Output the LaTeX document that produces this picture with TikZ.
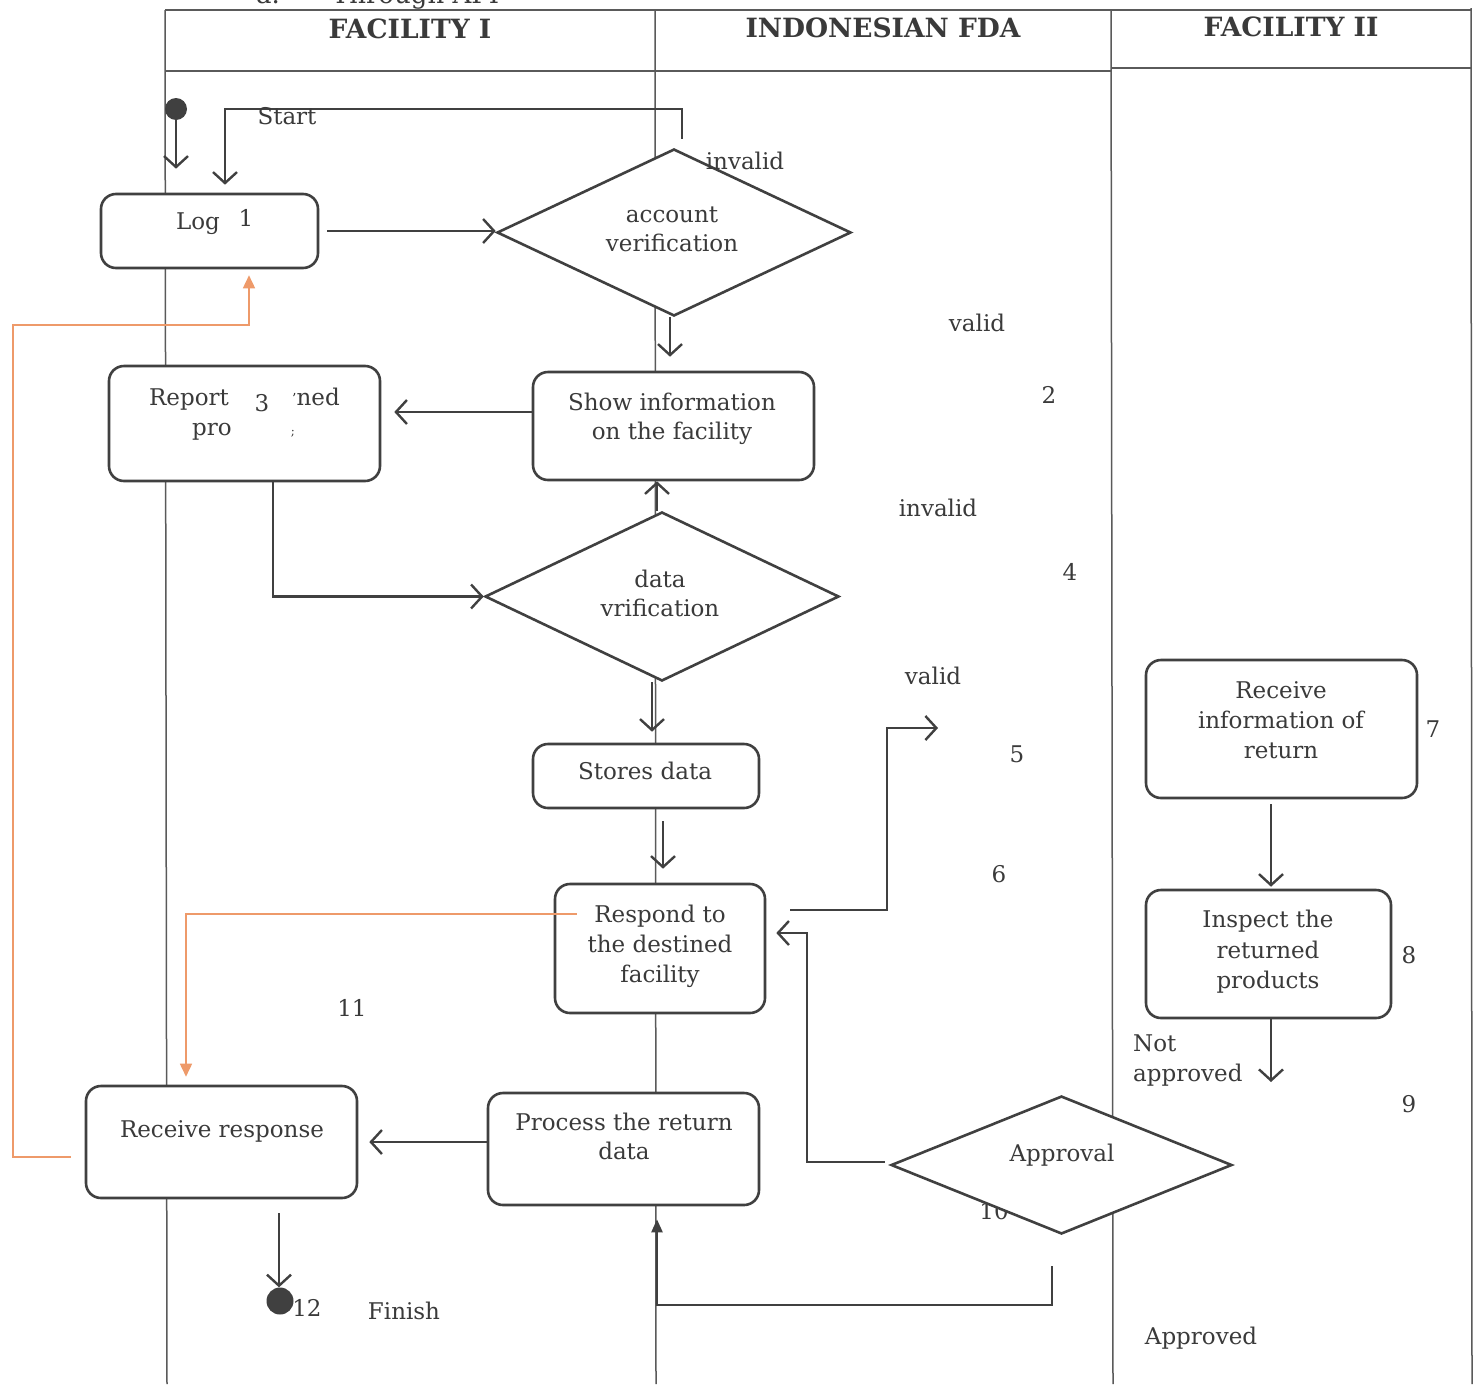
\documentclass[tikz,border=0pt]{standalone}
\usepackage{fontspec}
\setmainfont{DejaVu Serif}
\usetikzlibrary{arrows.meta,shapes.geometric}
\definecolor{lc}{HTML}{404040}
\definecolor{tc}{HTML}{3A3A3A}
\definecolor{lanec}{HTML}{5A5A5A}
\definecolor{orng}{HTML}{EE9A6A}
\begin{document}
\begin{tikzpicture}[x=1pt,y=-1pt,
  lane/.style={draw=lanec, line width=1.5pt},
  hdr/.style={text=tc, font=\fontsize{26.5}{30}\selectfont\bfseries, inner sep=0, anchor=mid, yshift=-7pt},
  t/.style={text=tc, font=\fontsize{23}{27}\selectfont, inner sep=0, anchor=mid, yshift=-4pt},
  box/.style={draw=lc, line width=2.6pt, rounded corners=15pt, fill=white, inner sep=0},
  dia/.style={diamond, draw=lc, line width=2.6pt, fill=white, inner sep=0},
  dot/.style={circle, fill=lc, draw=none, inner sep=0},
  arr/.style={draw=lc, line width=2.4pt, -{Straight Barb[length=11pt,width=24pt,line width=2.4pt]}},
  arrb/.style={draw=lc, line width=2.4pt, -{Triangle[length=13pt,width=11pt]}},
  oarr/.style={draw=orng, line width=1.6pt, -{Triangle[length=13pt,width=12pt]}}]
\useasboundingbox (0,0) rectangle (1477,1384);
\fill[white] (0,0) rectangle (1477,1384);

% caption (cut off at top in the reference)
\node[anchor=base west, text=tc, font=\fontsize{26}{30}\selectfont, inner sep=0] (cap) at (256,3) {a.\hspace{52pt}Through API};

% swimlanes
\draw[lane] (165,10) -- (1471,10);
\draw[lane] (165,71) -- (1111,71);
\draw[lane] (1111,68) -- (1471,68);
\draw[lane] (165,10) -- (167,1384);
\draw[lane] (655,10) -- (656,1384);
\draw[lane] (1111,10) -- (1113,1384);
\draw[lane] (1471,8) -- (1472,1384);
\node[hdr] (h1) at (410,29) {FACILITY I};
\node[hdr] (h2) at (883,28) {INDONESIAN FDA};
\node[hdr] (h3) at (1291,27) {FACILITY II};

% nodes
\node[dot, minimum size=22pt] (start) at (176,109) {};
\node[box, minimum width=217pt, minimum height=74pt] (log) at (209.5,231) {};
\node[dia, minimum width=354pt, minimum height=167pt] (av) at (674,232.5) {};
\node[box, minimum width=281pt, minimum height=108pt] (show) at (673.5,426) {};
\node[box, minimum width=271pt, minimum height=115pt] (report) at (244.5,423.5) {};
\node[dia, minimum width=354pt, minimum height=169pt] (dv) at (662,596.5) {};
\node[box, minimum width=226pt, minimum height=64pt] (stores) at (646,776) {};
\node[box, minimum width=210pt, minimum height=129pt] (respond) at (660,948.5) {};
\node[box, minimum width=271pt, minimum height=112pt] (rr) at (221.5,1142) {};
\node[box, minimum width=271pt, minimum height=112pt] (process) at (623.5,1149) {};
\node[t] (l10) at (994,1213) {10};
\node[dia, minimum width=341pt, minimum height=138pt] (appr) at (1061.5,1165) {};
\node[box, minimum width=271pt, minimum height=138pt] (ri) at (1281.5,729) {};
\node[box, minimum width=245pt, minimum height=128pt] (insp) at (1268.5,954) {};
\node[dot, minimum size=27pt] (finish) at (280,1301) {};

% coordinates for free ends / bends
\coordinate (loopc) at (225,109);
\coordinate (r5bend) at (887,728);
\coordinate (r5) at (938,728);
\coordinate (abend) at (807,933);
\coordinate (pbend) at (1052,1305);
\coordinate (obend) at (13,325);
\coordinate (na) at (1271,1082);

% connectors
\draw[arr, shorten >=24pt] (start.south) -- (start.south |- log.north);
\draw[arr, shorten >=8pt] ([xshift=8pt,yshift=9pt]av.north) |- (loopc) -- (loopc |- log.north);
\draw[arr, shorten <=8pt] (log.east) -- (log.east -| av.west);
\draw[arr, shorten >=14pt] ([xshift=-4pt]av.south) -- ([xshift=-4pt]av.south |- show.north);
\draw[arr, shorten >=13pt] ([yshift=14pt]show.west) -- ([yshift=14pt]show.west -| report.east);
\draw[arr] ([xshift=28.5pt]report.south) |- (dv.west);
\draw[arr] ([xshift=-5pt]dv.north) -- ([xshift=-5pt]dv.north |- show.south);
\draw[arr, shorten >=11pt] ([xshift=-10pt]dv.south) -- ([xshift=-10pt]dv.south |- stores.north);
\draw[arr, shorten <=12pt, shorten >=14pt] ([xshift=3pt]stores.south -| respond.north) -- ([xshift=3pt]respond.north);
\draw[arr, shorten <=24pt] ([yshift=38.5pt]respond.east) -| (r5bend) -- (r5);
\draw[arr, shorten <=5pt, shorten >=10pt] ([yshift=3pt]appr.west) -| (abend) -- (abend -| respond.east);
\draw[arrb, shorten <=31pt, shorten >=13pt] ([xshift=-9.5pt]appr.south) -- (pbend) -| ([xshift=33.5pt]process.south);
\draw[arr, shorten >=11pt] (process.west |- rr.east) -- (rr.east);
\draw[arr, shorten <=14pt] ([xshift=57.5pt]rr.south) -- ([xshift=-1pt]finish.north);
\draw[arr, shorten <=5pt, shorten >=2pt] ([xshift=-10.5pt]ri.south) -- ([xshift=-10.5pt]ri.south |- insp.north);
\draw[arr] ([xshift=2.5pt]insp.south) -- (na);
\draw[oarr, shorten >=8pt] ([xshift=23pt,yshift=34.5pt]respond.west) -| ([xshift=-35.5pt]rr.north);
\draw[oarr, shorten <=14pt, shorten >=6pt] ([yshift=-15pt]rr.west) -| (obend) -| ([xshift=39.5pt]log.south);

% texts
\node[t] (tstart) at (287,118) {Start};
\node[t] (tinv1) at (745,163) {invalid};
\node[t] (tav1) at (672,216) {account};
\node[t] (tav2) at (672,245) {verification};
\node[t] (tlog) at (198,223) {Log};
\node[t] (n1) at (246,220) {1};
\node[t] (tval1) at (977,325) {valid};
\node[t] (n2) at (1049,397) {2};
\node[t] (ts1) at (672,404) {Show information};
\node[t] (ts2) at (672,433) {on the facility};
\node[t] (tr1) at (189,399) {Report};
\node[t] (n3) at (262,405) {3};
\node[t] (tr2) at (317,399) {\kern-2pt\raisebox{2pt}{\scalebox{0.6}{'}}ned};
\node[t] (tr3) at (212,429) {pro};
\node[t, font=\fontsize{12}{14}\selectfont] (tr4) at (293,429) {;};
\node[t] (tinv2) at (938,510) {invalid};
\node[t] (td1) at (660,581) {data};
\node[t] (td2) at (660,610) {vrification};
\node[t] (n4) at (1070,574) {4};
\node[t] (tval2) at (933,678) {valid};
\node[t] (tst) at (645,773) {Stores data};
\node[t] (n5) at (1017,756) {5};
\node[t] (n6) at (999,876) {6};
\node[t] (tre1) at (660,916) {Respond to};
\node[t] (tre2) at (660,946) {the destined};
\node[t] (tre3) at (660,976) {facility};
\node[t] (n11) at (352,1010) {11};
\node[t] (trr) at (222,1131) {Receive response};
\node[t] (tp1) at (624,1124) {Process the return};
\node[t] (tp2) at (624,1153) {data};
\node[t] (tap) at (1062,1155) {Approval};
\node[t] (n12) at (307,1310) {12};
\node[t] (tfin) at (404,1313) {Finish};
\node[t] (tapd) at (1201,1338) {Approved};
\node[t] (tri1) at (1281,692) {Receive};
\node[t] (tri2) at (1281,722) {information of};
\node[t] (tri3) at (1281,752) {return};
\node[t] (n7) at (1433,731) {7};
\node[t] (ti1) at (1268,921) {Inspect the};
\node[t] (ti2) at (1268,952) {returned};
\node[t] (ti3) at (1268,982) {products};
\node[t] (n8) at (1409,957) {8};
\node[t, anchor=mid west] (tna1) at (1133,1045) {Not};
\node[t, anchor=mid west] (tna2) at (1133,1075) {approved};
\node[t] (n9) at (1409,1106) {9};
\end{tikzpicture}
\end{document}
